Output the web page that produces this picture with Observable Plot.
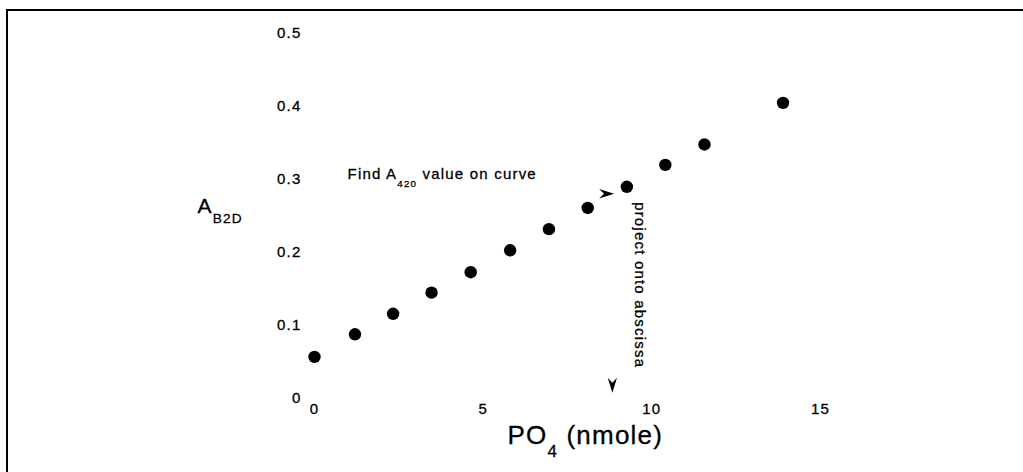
<!DOCTYPE html>
<html>
<head>
<meta charset="utf-8">
<script src="https://cdn.jsdelivr.net/npm/d3@7"></script>
<script src="https://cdn.jsdelivr.net/npm/@observablehq/plot@0.6"></script>
<style>
  html, body { margin: 0; padding: 0; background: #fff; }
  #wrap { position: relative; width: 1023px; height: 472px; overflow: hidden; }
  #border { position: absolute; left: 6px; top: 9px; right: -10px; bottom: -10px;
            border-top: 2px solid #000; border-left: 2px solid #000; pointer-events: none; }
  #wrap svg text { letter-spacing: 1.2px; stroke: #000; stroke-width: 0.3px; }
</style>
</head>
<body>
<div id="wrap"><div id="border"></div></div>
<script>
// ---- data ----
const po4 = [0, 1.2, 2.33, 3.47, 4.63, 5.8, 6.95, 8.1, 9.26, 10.4, 11.56, 13.89];   // nmole
const a820 = [0.057, 0.088, 0.116, 0.145, 0.173, 0.203, 0.232, 0.261, 0.290, 0.320, 0.348, 0.405];
const xTicks = [0, 5, 10, 15];
const xTickLabels = ["0", "5", "10", "15"];
const yTicks = [0, 0.1, 0.2, 0.3, 0.4, 0.5];
const yTickLabels = ["0", "0.1", "0.2", "0.3", "0.4", "0.5"];
const xTitle = "PO_{4} (nmole)";
const yTitle = "A_{B2D}";
const noteFind = "Find A_{420} value on curve";
const noteProject = "project onto abscissa";

// annotation anchors (data coordinates)
const notes = {
  find: {x: 0.98, y: 0.307},
  project: {x: 9.64, y: 0.269},
  arrows: [{x: 8.66, y: 0.2805, rot: 90}, {x: 8.83, y: 0.018, rot: 180}]
};

const rows = po4.map((x, i) => ({po4: x, a: a820[i]}));

// barbed arrowhead symbol, pointing up before rotation
const arrowHead = {
  draw(context, size) {
    const r = Math.sqrt(size / Math.PI);
    context.moveTo(0, -r);
    context.lineTo(0.62 * r, r);
    context.lineTo(0, 0.35 * r);
    context.lineTo(-0.62 * r, r);
    context.closePath();
  }
};

const chart = Plot.plot({
  width: 1023,
  height: 472,
  marginLeft: 314,
  marginRight: 203,
  marginTop: 33,
  marginBottom: 74,
  x: {domain: [0, 15]},
  y: {domain: [0, 0.5]},
  style: {fontFamily: "'Liberation Sans', Arial, sans-serif", fontSize: "15px", color: "#000", background: "transparent"},
  marks: [
    Plot.axisX(xTicks, {tickSize: 0, tickPadding: 5, label: null,
      tickFormat: d => xTickLabels[xTicks.indexOf(d)]}),
    Plot.axisY(yTicks, {tickSize: 0, tickPadding: 13, label: null,
      tickFormat: d => yTickLabels[yTicks.indexOf(d)]}),
    Plot.dot(rows, {x: "po4", y: "a", r: 6.2, fill: "#000"}),
    Plot.dot(notes.arrows, {x: "x", y: "y", rotate: "rot", symbol: arrowHead, r: 7.5, fill: "#000"}),
    Plot.text([notes.find], {x: "x", y: "y", text: () => noteFind, textAnchor: "start",
      lineAnchor: "middle", fontSize: 15, fill: "#000"}),
    Plot.text([notes.project], {x: "x", y: "y", text: () => noteProject, textAnchor: "start",
      lineAnchor: "middle", rotate: 90, fontSize: 15, fill: "#000"}),
    Plot.text([yTitle], {frameAnchor: "left", dx: -117, dy: -10, textAnchor: "start",
      lineAnchor: "middle", fontSize: 21, fill: "#000"}),
    Plot.text([xTitle], {frameAnchor: "bottom-left", dx: 193, dy: 37, textAnchor: "start",
      lineAnchor: "middle", fontSize: 26, fill: "#000"})
  ]
});

document.getElementById("wrap").prepend(chart);

// turn _{...} markup into subscript tspans
d3.select(chart).selectAll("text").each(function() {
  const t = this.textContent;
  if (!t.includes("_{")) return;
  const fs = parseFloat(getComputedStyle(this).fontSize);
  const el = d3.select(this);
  el.text(null);
  let shifted = false;
  t.split(/(_\{[^}]*\})/).forEach(p => {
    if (!p) return;
    if (p.startsWith("_{")) {
      el.append("tspan").attr("dy", (fs * 0.5) + "px").attr("font-size", (fs * 0.65) + "px")
        .text(p.slice(2, -1));
      shifted = true;
    } else {
      const ts = el.append("tspan").text(p);
      if (shifted) { ts.attr("dy", (-fs * 0.5) + "px"); shifted = false; }
    }
  });
});
</script>
</body>
</html>
